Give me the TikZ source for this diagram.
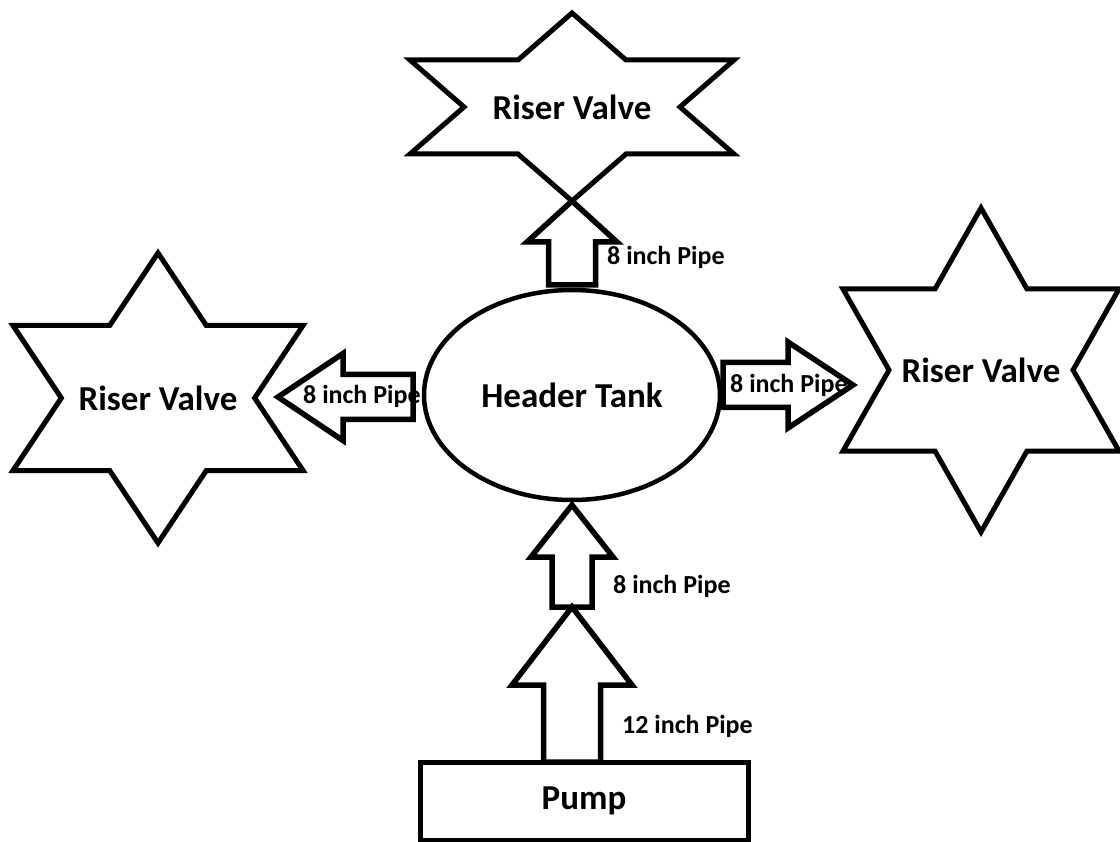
\documentclass[tikz,border=0pt]{standalone}
\usepackage{fontspec}
\setmainfont{Carlito}
\usepackage{tikz}
\usetikzlibrary{shapes.geometric,calc,positioning}

\tikzset{
    % Base node style
    basenode/.style={
        inner sep=0pt,
        outer sep=0pt,
        align=center,
        font=\fontsize{35}{40}\selectfont\bfseries
    },
    % Riser valve text (star outline drawn around it)
    valvenode/.style={
        basenode
    },
    % Header tank
    tanknode/.style={
        basenode,
        ellipse,
        draw=black,
        line width=4.5pt,
        minimum width=296pt,
        minimum height=210pt
    },
    % Pump box
    pumpnode/.style={
        basenode,
        draw=black,
        line width=5pt,
        minimum width=328pt,
        minimum height=78pt
    },
    % Pipe label
    pipelabel/.style={
        inner sep=0pt,
        font=\fontsize{26}{30}\selectfont\bfseries
    },
    % Star outline
    starline/.style={
        draw=black,
        line width=5pt
    },
    % Block arrow outline
    pipeline/.style={
        draw=black,
        line width=5.5pt
    }
}

% block arrow: from, to, half shaft, half head, head length
\newcommand{\pipearrow}[5]{%
    \coordinate (hb) at ($(#2)!#5!(#1)$);
    \draw[pipeline] ($(#1)!#3!90:(#2)$) -- ($(hb)!#3!90:(#2)$) -- ($(hb)!#4!90:(#2)$) -- (#2)
        -- ($(hb)!#4!-90:(#2)$) -- ($(hb)!#3!-90:(#2)$) -- ($(#1)!#3!-90:(#2)$) -- cycle;
}

\begin{document}
\begin{tikzpicture}[x=1pt,y=-1pt]
\useasboundingbox (0,0) rectangle (1120,842);

% valves, tank and pump
\node[valvenode,minimum width=324pt,minimum height=188pt] (rvtop) at (572,107) {Riser Valve};
\node[valvenode,minimum width=290pt,minimum height=290pt] (rvleft) at (158,398) {Riser Valve};
\node[valvenode,minimum width=276pt,minimum height=324pt] (rvright) at (981,370) {Riser Valve};
\node[tanknode] (tank) at (572,395) {Header Tank};
\node[pumpnode] (pump) at (584,801) {Pump};

\foreach \n/\w/\h in {rvtop/162/94, rvleft/145/145, rvright/138/162}
    \draw[starline,shift={(\n.center)},x=\w pt,y=\h pt]
        (0,1) -- (1/3,1/2) -- (1,1/2) -- (2/3,0) -- (1,-1/2) -- (1/3,-1/2) -- (0,-1)
        -- (-1/3,-1/2) -- (-1,-1/2) -- (-2/3,0) -- (-1,1/2) -- (-1/3,1/2) -- cycle;

% pipe ends
\coordinate (topbase) at ($(tank.north)+(0,-5)$);
\coordinate (lbase) at ($(tank.west)+(-11,2)$);
\coordinate (ltip) at (278,397);
\coordinate (rbase) at ($(tank.east)+(3,-10)$);
\coordinate (rtip) at (853,385);
\coordinate (btip) at ($(tank.south)+(0,5)$);
\coordinate (joint) at (572,607);
\coordinate (pbase) at ($(pump.north)+(-12,0)$);

% pipes
\pipearrow{topbase}{rvtop.south}{23.5pt}{45pt}{41pt}
\pipearrow{lbase}{ltip}{22.5pt}{43.5pt}{65pt}
\pipearrow{rbase}{rtip}{22.5pt}{43pt}{65pt}
\pipearrow{joint}{btip}{20pt}{41pt}{52pt}
\pipearrow{pbase}{joint}{28.5pt}{60pt}{78pt}

% pipe labels
\node[pipelabel,anchor=base west] (ptop) at (607,265) {8 inch Pipe};
\node[pipelabel,anchor=base west] (pleft) at (303,403) {8 inch Pipe};
\node[pipelabel,anchor=base west] (pright) at (730,393) {8 inch Pipe};
\node[pipelabel,anchor=base west] (pmid) at (613,593) {8 inch Pipe};
\node[pipelabel,anchor=base west] (ppump) at (622,733) {12 inch Pipe};
\end{tikzpicture}
\end{document}
